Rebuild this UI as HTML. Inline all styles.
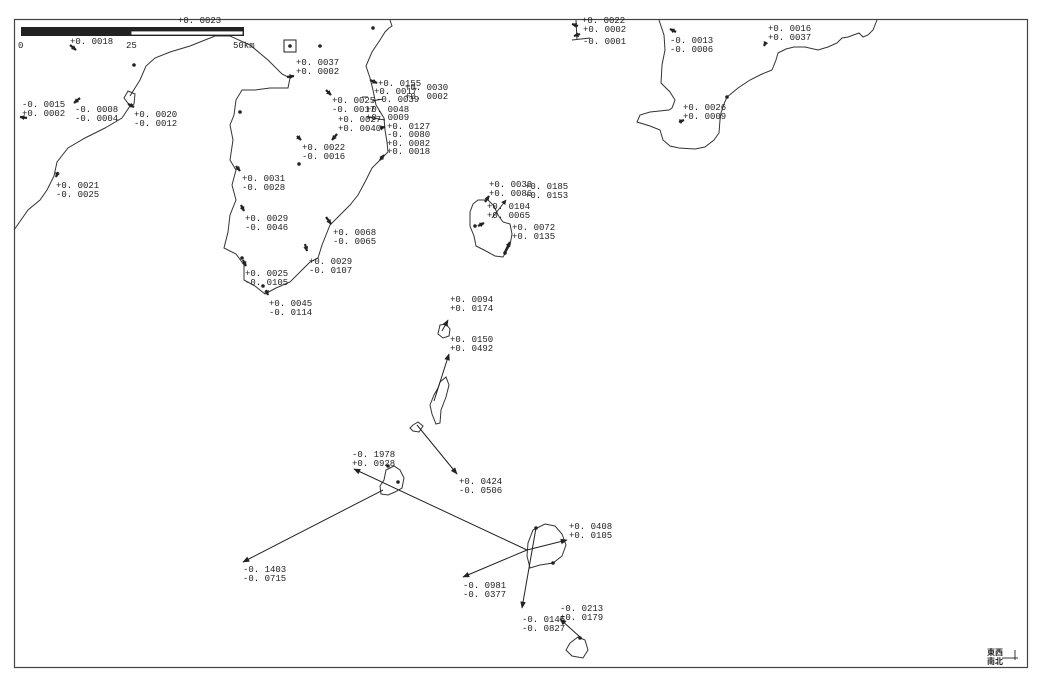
<!DOCTYPE html>
<html><head><meta charset="utf-8"><style>
html,body{margin:0;padding:0;background:#fff;}
svg{display:block}
text{font-family:"Liberation Mono","DejaVu Sans Mono",monospace;font-size:9px;fill:#222;}
</style></head><body>
<svg width="1044" height="685" viewBox="0 0 1044 685" xmlns="http://www.w3.org/2000/svg">
<defs>
<marker id="ah" viewBox="0 0 10 10" refX="9" refY="5" markerWidth="7" markerHeight="7" orient="auto"><path d="M0,1 L10,5 L0,9 z" fill="#222"/></marker>
<marker id="sh" viewBox="0 0 10 10" refX="9" refY="5" markerUnits="userSpaceOnUse" markerWidth="5" markerHeight="5" orient="auto"><path d="M0,0 L10,5 L0,10 z" fill="#222"/></marker>
</defs>
<rect x="14.5" y="19.5" width="1013" height="648" fill="none" stroke="#444" stroke-width="1.2"/>
<g fill="none" stroke="#333" stroke-width="1">
<path d="M14,230 L28,210 L40,200 L47,190 L54,176 L57,162 L68,148 L85,138 L105,128 L122,118 L130,106 L124,98 L128,91 L135,94 L134,104 L130,106 M130,96 L140,80 L146,66 L155,58 L170,52 L190,46 L205,40 L215,36 L230,36 L250,45 L268,60 L282,74 L290,78 L288,88 L270,88 L255,90 L242,90 L236,100 L234,115 L230,125 L233,140 L230,160 L236,170 L232,185 L236,200 L230,215 L228,232 L224,248 L236,254 L244,265 L244,280 L255,286 L265,294 L276,288 L290,282 L302,270 L310,262 L318,258 L322,245 L330,225 L340,215 L350,205 L358,195 L365,182 L372,168 L380,160 L388,152 L387,142 L385,130 L384,118 L376,105 L373,90 L370,78 L366,66 L372,52 L380,40 L385,32 L389,28 L392,26 L390,20"/>
<path d="M659,20 L664,35 L665,50 L662,65 L661,83 L670,92 L675,100 L672,108 L669,110 L650,112 L640,115 L637,122 L650,126 L660,130 L663,140 L670,146 L679,148 L695,149 L705,147 L714,140 L719,133 L720,120 L721,113 L724,104 L727,97 L738,88 L750,80 L762,74 L772,70 L776,60 L778,53 L786,49 L794,47 L805,47 L818,50 L828,47 L837,43 L842,38 L848,37 L859,33 L863,37 L868,35 L873,30 L877,20"/>
<path d="M576,20 L577,40 M572,40 L590,38"/>
<path d="M478,200 L488,200 L494,206 L498,215 L503,222 L510,224 L512,234 L510,245 L506,252 L503,257 L495,256 L484,250 L476,246 L474,236 L470,226 L470,212 L473,204 Z"/>
<path d="M440,325 L446,324 L450,329 L449,336 L443,338 L438,334 Z"/>
<path d="M440,382 L446,377 L449,385 L446,397 L441,410 L440,423 L436,424 L432,414 L430,405 L434,395 L438,388 Z"/>
<path d="M413,425 L418,422 L423,426 L419,432 L413,431 L410,428 Z"/>
<path d="M386,470 L394,466 L400,470 L404,478 L402,488 L395,492 L388,495 L381,494 L380,486 L384,480 Z"/>
<path d="M533,530 L545,524 L555,526 L562,534 L566,545 L562,556 L553,563 L540,565 L530,568 L527,556 L528,543 Z"/>
<path d="M570,643 L578,637 L585,640 L588,650 L583,658 L572,656 L566,650 Z"/>
</g>
<rect x="21" y="27" width="223" height="9" fill="#222"/>
<rect x="131" y="31" width="112" height="4" fill="#fff" stroke="#222" stroke-width="0.8"/>
<text x="18" y="48">0</text><text x="126" y="48">25</text><text x="233" y="48">50km</text>
<rect x="284" y="40" width="12" height="12" fill="none" stroke="#222"/>
<g fill="#222">
<circle cx="290" cy="46" r="1.8"/><circle cx="373" cy="28" r="1.8"/><circle cx="320" cy="46" r="1.8"/><circle cx="134" cy="65" r="1.8"/><circle cx="240" cy="112" r="1.8"/><circle cx="299" cy="164" r="1.8"/><circle cx="242" cy="258" r="1.8"/><circle cx="263" cy="286" r="1.8"/><circle cx="727" cy="97" r="1.8"/><circle cx="398" cy="482" r="1.8"/><circle cx="388" cy="466" r="1.8"/><circle cx="553" cy="563" r="1.8"/><circle cx="536" cy="528" r="1.8"/><circle cx="580" cy="638" r="1.8"/><circle cx="505" cy="253" r="1.8"/><circle cx="475" cy="226" r="1.8"/>
</g>
<g stroke="#222" stroke-width="2.2" marker-end="url(#sh)">
<line x1="70" y1="45" x2="76" y2="50"/><line x1="80" y1="98" x2="74" y2="103"/><line x1="27" y1="118" x2="20" y2="117"/>
<line x1="58" y1="172" x2="56" y2="177"/><line x1="128" y1="104" x2="134" y2="107"/><line x1="287" y1="77" x2="294" y2="76"/>
<line x1="326" y1="90" x2="331" y2="95"/><line x1="297" y1="136" x2="301" y2="140"/><line x1="337" y1="134" x2="332" y2="140"/>
<line x1="236" y1="166" x2="240" y2="171"/><line x1="241" y1="205" x2="244" y2="211"/><line x1="326" y1="217" x2="331" y2="224"/>
<line x1="305" y1="244" x2="307" y2="251"/><line x1="243" y1="260" x2="246" y2="266"/><line x1="266" y1="290" x2="268" y2="295"/>
<line x1="370" y1="80" x2="377" y2="83"/><line x1="380" y1="128" x2="385" y2="127"/><line x1="380" y1="160" x2="384" y2="155"/>
<line x1="578" y1="26" x2="572" y2="24"/><line x1="580" y1="34" x2="574" y2="36"/><line x1="676" y1="32" x2="670" y2="29"/>
<line x1="766" y1="42" x2="764" y2="46"/><line x1="679" y1="122" x2="684" y2="120"/>
<line x1="485" y1="202" x2="489" y2="196"/><line x1="478" y1="226" x2="484" y2="223"/><line x1="505" y1="252" x2="510" y2="242"/>
</g>
<g stroke="#222" stroke-width="0.9" fill="none">
<line x1="368" y1="97" x2="362" y2="97"/><line x1="383" y1="99" x2="372" y2="101"/><line x1="367" y1="117" x2="385" y2="120"/>
<line x1="492" y1="218" x2="506" y2="200" marker-end="url(#sh)"/>
<line x1="1002" y1="658" x2="1018" y2="658"/><line x1="1015" y1="650" x2="1015" y2="660"/>
</g>
<g stroke="#222" stroke-width="1" marker-end="url(#ah)">
<line x1="383" y1="490" x2="243" y2="562"/>
<line x1="527" y1="550" x2="354" y2="469"/>
<line x1="527" y1="550" x2="463" y2="577"/>
<line x1="536" y1="528" x2="522" y2="608"/>
<line x1="527" y1="550" x2="567" y2="540"/>
<line x1="580" y1="637" x2="560" y2="619"/>
<line x1="417" y1="425" x2="457" y2="474"/>
<line x1="434" y1="401" x2="449" y2="354"/>
<line x1="442" y1="331" x2="448" y2="320"/>
</g>
<g>
<text x="178" y="23">+0. 0023</text><text x="70" y="44">+0. 0018</text>
<text x="22" y="107">-0. 0015</text><text x="22" y="116">+0. 0002</text>
<text x="75" y="112">-0. 0008</text><text x="75" y="121">-0. 0004</text>
<text x="134" y="117">+0. 0020</text><text x="134" y="126">-0. 0012</text>
<text x="56" y="188">+0. 0021</text><text x="56" y="197">-0. 0025</text>
<text x="296" y="65">+0. 0037</text><text x="296" y="74">+0. 0002</text>
<text x="332" y="103">+0. 0025</text><text x="332" y="112">-0. 0017</text>
<text x="338" y="122">+0. 0027</text><text x="338" y="131">+0. 0040</text>
<text x="302" y="150">+0. 0022</text><text x="302" y="159">-0. 0016</text>
<text x="242" y="181">+0. 0031</text><text x="242" y="190">-0. 0028</text>
<text x="245" y="221">+0. 0029</text><text x="245" y="230">-0. 0046</text>
<text x="333" y="235">+0. 0068</text><text x="333" y="244">-0. 0065</text>
<text x="309" y="264">+0. 0029</text><text x="309" y="273">-0. 0107</text>
<text x="245" y="276">+0. 0025</text><text x="245" y="285">-0. 0105</text>
<text x="269" y="306">+0. 0045</text><text x="269" y="315">-0. 0114</text>
<text x="378" y="86">+0. 0155</text><text x="374" y="94">+0. 0017</text><text x="376" y="102">-0. 0039</text>
<text x="405" y="90">+0. 0030</text><text x="405" y="99">+0. 0002</text>
<text x="366" y="112">+0. 0048</text><text x="366" y="120">+0. 0009</text>
<text x="387" y="129">+0. 0127</text><text x="387" y="137">-0. 0080</text><text x="387" y="146">+0. 0082</text><text x="387" y="154">+0. 0018</text>
<text x="582" y="23">+0. 0022</text><text x="583" y="32">+0. 0002</text><text x="583" y="44">-0. 0001</text>
<text x="670" y="43">-0. 0013</text><text x="670" y="52">-0. 0006</text>
<text x="768" y="31">+0. 0016</text><text x="768" y="40">+0. 0037</text>
<text x="683" y="110">+0. 0026</text><text x="683" y="119">+0. 0009</text>
<text x="489" y="187">+0. 0038</text><text x="489" y="196">+0. 0086</text>
<text x="525" y="189">+0. 0185</text><text x="525" y="198">+0. 0153</text>
<text x="487" y="209">+0. 0104</text><text x="487" y="218">+0. 0065</text>
<text x="512" y="230">+0. 0072</text><text x="512" y="239">+0. 0135</text>
<text x="450" y="302">+0. 0094</text><text x="450" y="311">+0. 0174</text>
<text x="450" y="342">+0. 0150</text><text x="450" y="351">+0. 0492</text>
<text x="352" y="457">-0. 1978</text><text x="352" y="466">+0. 0928</text>
<text x="459" y="484">+0. 0424</text><text x="459" y="493">-0. 0506</text>
<text x="569" y="529">+0. 0408</text><text x="569" y="538">+0. 0105</text>
<text x="243" y="572">-0. 1403</text><text x="243" y="581">-0. 0715</text>
<text x="463" y="588">-0. 0981</text><text x="463" y="597">-0. 0377</text>
<text x="522" y="622">-0. 0145</text><text x="522" y="631">-0. 0827</text>
<text x="560" y="611">-0. 0213</text><text x="560" y="620">+0. 0179</text>
</g>
<text x="987" y="655" style="font-family:'Liberation Sans','Noto Sans CJK JP',sans-serif;font-size:8px;font-weight:bold">東西</text>
<text x="987" y="664" style="font-family:'Liberation Sans','Noto Sans CJK JP',sans-serif;font-size:8px;font-weight:bold">南北</text>
</svg>
</body></html>
